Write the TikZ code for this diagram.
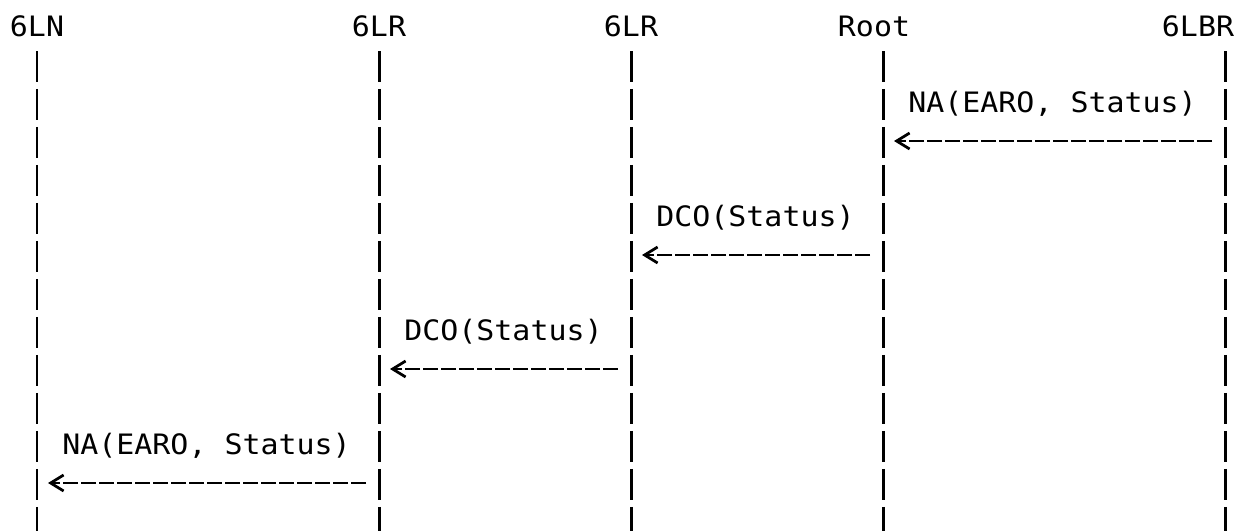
\documentclass[tikz,border=0pt]{standalone}
\usepackage{fontspec}
\setmonofont[FakeStretch=1.065]{DejaVu Sans Mono}
\usetikzlibrary{arrows.meta}

\begin{document}
\begin{tikzpicture}[x=0.02cm, y=-0.02cm,
        lbl/.style={font=\fontsize{16}{18}\selectfont\ttfamily, inner sep=0pt},
        life/.style={line width=0.06cm, dash pattern=on 0.62cm off 0.14cm},
        msg/.style={line width=0.055cm, dash pattern=on 0.30cm off 0.06cm,
            -{Straight Barb[length=0.26cm, width=0.32cm, line width=0.055cm, sep=0.08cm]},
            shorten >=0.14cm, shorten <=0.26cm}]

            \useasboundingbox (0,0) rectangle (1249,531);

            % heads of the lifelines
            \node[lbl, anchor=base] (ln)   at (37,36)   {6LN};
            \node[lbl, anchor=base] (lra)  at (379,36)  {6LR};
            \node[lbl, anchor=base] (lrb)  at (631,36)  {6LR};
            \node[lbl, anchor=base] (root) at (874,36)  {Root};
            \node[lbl, anchor=base] (lbr)  at (1198,36) {6LBR};

            \foreach \n/\x in {1/37, 2/379, 3/631, 4/883, 5/1225}
            \coordinate (l\n) at (\x,51);

            \foreach \n in {1,...,5}
            \draw[life] (l\n) -- ++(0,480);

            % message rows
            \coordinate (r1) at (0,141);
            \coordinate (r2) at (0,255);
            \coordinate (r3) at (0,369);
            \coordinate (r4) at (0,483);

            \node[lbl, anchor=base west] (na1)  at (908,112) {NA(EARO, Status)};
            \draw[msg] (l5 |- r1) -- (l4 |- r1);

            \node[lbl, anchor=base west] (dco1) at (656,226) {DCO(Status)};
            \draw[msg] (l4 |- r2) -- (l3 |- r2);

            \node[lbl, anchor=base west] (dco2) at (404,340) {DCO(Status)};
            \draw[msg] (l3 |- r3) -- (l2 |- r3);

            \node[lbl, anchor=base west] (na2)  at (62,454)  {NA(EARO, Status)};
            \draw[msg] (l2 |- r4) -- (l1 |- r4);
\end{tikzpicture}
\end{document}
